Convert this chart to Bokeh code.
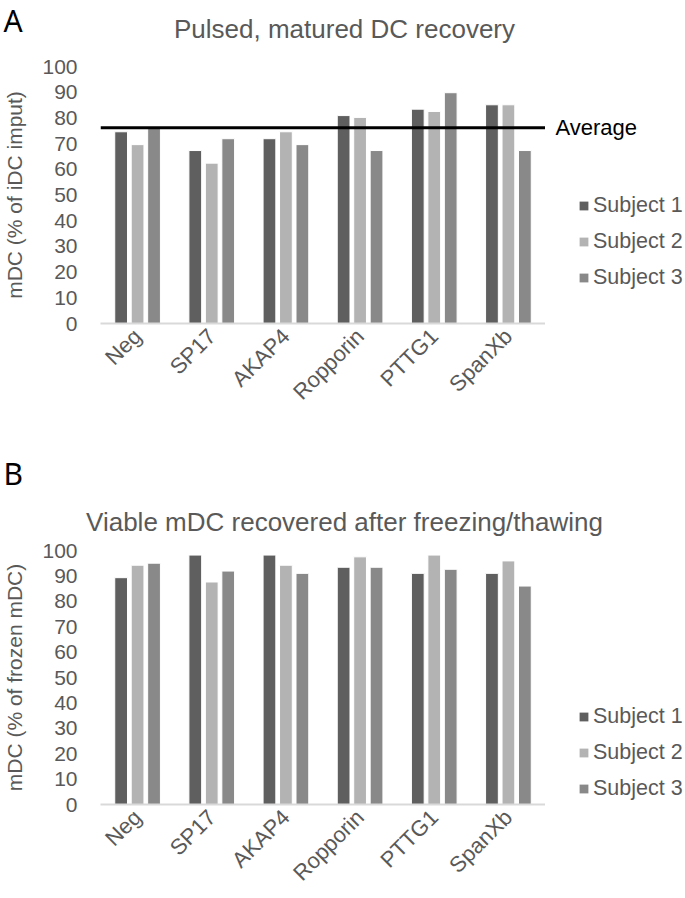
from bokeh.plotting import figure
from bokeh.layouts import column, row
from bokeh.models import FactorRange, Range1d, Span, Label, Legend, LegendItem, ColumnDataSource
from bokeh.transform import dodge
from bokeh.embed import file_html
from bokeh.resources import INLINE

categories = ["Neg", "SP17", "AKAP4", "Ropporin", "PTTG1", "SpanXb"]
series_names = ["Subject 1", "Subject 2", "Subject 3"]

recovery_s1 = [74.6, 67.3, 71.9, 80.9, 83.4, 85.1]
recovery_s2 = [69.6, 62.4, 74.6, 80.2, 82.5, 85.1]
recovery_s3 = [76.5, 71.9, 69.6, 67.3, 89.8, 67.3]
recovery_average = 76.2

viability_s1 = [89.3, 98.2, 98.2, 93.4, 91.0, 91.0]
viability_s2 = [94.2, 87.6, 94.2, 97.5, 98.2, 95.9]
viability_s3 = [95.0, 91.9, 91.0, 93.4, 92.6, 86.0]

y_ticks = [0, 10, 20, 30, 40, 50, 60, 70, 80, 90, 100]

COLORS = ["#5f5f5f", "#b3b3b3", "#898989"]
TEXT = "#595959"
FONT = "Liberation Sans"
MAIN_W = 545
SIDE_W = 139
FULL_W = MAIN_W + SIDE_W


def plain(p):
    p.outline_line_color = None
    p.grid.grid_line_color = None
    p.background_fill_color = "white"
    p.border_fill_color = "white"


def header(letter, title_text, h, letter_y, title_y):
    s = figure(width=FULL_W, height=h, x_range=Range1d(0, FULL_W), y_range=Range1d(h, 0),
               output_backend="svg", toolbar_location=None, x_axis_location=None,
               y_axis_location=None, min_border_left=0, min_border_right=0,
               min_border_top=0, min_border_bottom=0)
    plain(s)
    s.add_layout(Label(x=3, y=letter_y, text=letter, text_font="Noto Sans",
                       text_font_size="30px", text_color="black", text_baseline="middle"))
    s.add_layout(Label(x=344, y=title_y, text=title_text, text_font=FONT,
                       text_font_size="26px", text_color=TEXT, text_align="center",
                       text_baseline="middle"))
    return s


def panel(ylabel, s1, s2, s3, height, top, bottom, legend_y, average=None):
    yr = Range1d(0, 100)
    p = figure(x_range=FactorRange(factors=categories), y_range=yr,
               width=MAIN_W, height=height, output_backend="svg", toolbar_location=None,
               min_border_left=93, min_border_right=0, min_border_top=top,
               min_border_bottom=bottom)
    plain(p)

    src = ColumnDataSource(dict(cat=categories, s1=s1, s2=s2, s3=s3))
    offsets = [-0.222, 0.0, 0.222]
    for key, off, col in zip(["s1", "s2", "s3"], offsets, COLORS):
        p.vbar(x=dodge("cat", off, range=p.x_range), top=key, width=0.172, bottom=0,
               source=src, fill_color=col, line_color="white", line_width=1)

    ya = p.yaxis[0]
    ya.ticker = y_ticks
    ya.axis_line_color = None
    ya.major_tick_line_color = None
    ya.minor_tick_line_color = None
    ya.major_label_text_font = FONT
    ya.major_label_text_font_size = "21px"
    ya.major_label_text_color = TEXT
    ya.major_label_standoff = 17
    ya.axis_label = ylabel
    ya.axis_label_text_font = FONT
    ya.axis_label_text_font_size = "21px"
    ya.axis_label_text_font_style = "normal"
    ya.axis_label_text_color = TEXT
    ya.axis_label_standoff = 13

    xa = p.xaxis[0]
    xa.axis_line_color = "#d9d9d9"
    xa.axis_line_width = 2
    xa.major_tick_line_color = None
    xa.minor_tick_line_color = None
    xa.major_label_orientation = 0.785398
    xa.major_label_text_font = FONT
    xa.major_label_text_font_size = "22px"
    xa.major_label_text_color = TEXT
    xa.major_label_standoff = 3

    # side area: "Average" text and legend (legend swatches reuse the same data, hidden)
    side = figure(width=SIDE_W, height=height, x_range=Range1d(0, SIDE_W), y_range=yr,
                  output_backend="svg", toolbar_location=None, x_axis_location=None,
                  y_axis_location=None, min_border_left=0, min_border_right=0,
                  min_border_top=top, min_border_bottom=bottom)
    plain(side)
    proxies = []
    for key, col in zip(["s1", "s2", "s3"], COLORS):
        proxies.append(side.vbar(x=0, top=key, bottom=0, width=1, source=src,
                                 fill_color=col, line_color=None, visible=False))
    legend = Legend(items=[LegendItem(label=n, renderers=[r]) for n, r in zip(series_names, proxies)],
                    location=(33, legend_y), orientation="vertical")
    legend.padding = 0
    legend.margin = 0
    legend.border_line_color = None
    legend.background_fill_alpha = 0
    legend.inactive_fill_alpha = 0
    legend.glyph_width = 11
    legend.glyph_height = 11
    legend.label_standoff = 4
    legend.label_height = 24
    legend.spacing = 11
    legend.label_text_font = FONT
    legend.label_text_font_size = "21.5px"
    legend.label_text_color = TEXT
    side.add_layout(legend, "center")

    if average is not None:
        p.add_layout(Span(location=average, dimension="width", line_color="black", line_width=3))
        side.add_layout(Label(x=10, y=average, text="Average", text_font=FONT,
                              text_font_size="22px", text_color="black",
                              text_baseline="middle"))
    return row(p, side, spacing=0)


head_a = header("A", "Pulsed, matured DC recovery", 48, 20, 28)
body_a = panel("mDC (% of iDC imput)", recovery_s1, recovery_s2, recovery_s3,
               height=385, top=18, bottom=110, legend_y=33, average=recovery_average)
head_b = header("B", "Viable mDC recovered after freezing/thawing", 105, 40, 88)
body_b = panel("mDC (% of frozen mDC)", viability_s1, viability_s2, viability_s3,
               height=359, top=12, bottom=91, legend_y=3)

layout = column(head_a, body_a, head_b, body_b, spacing=0)
open("out.html", "w").write(file_html(layout, INLINE))
